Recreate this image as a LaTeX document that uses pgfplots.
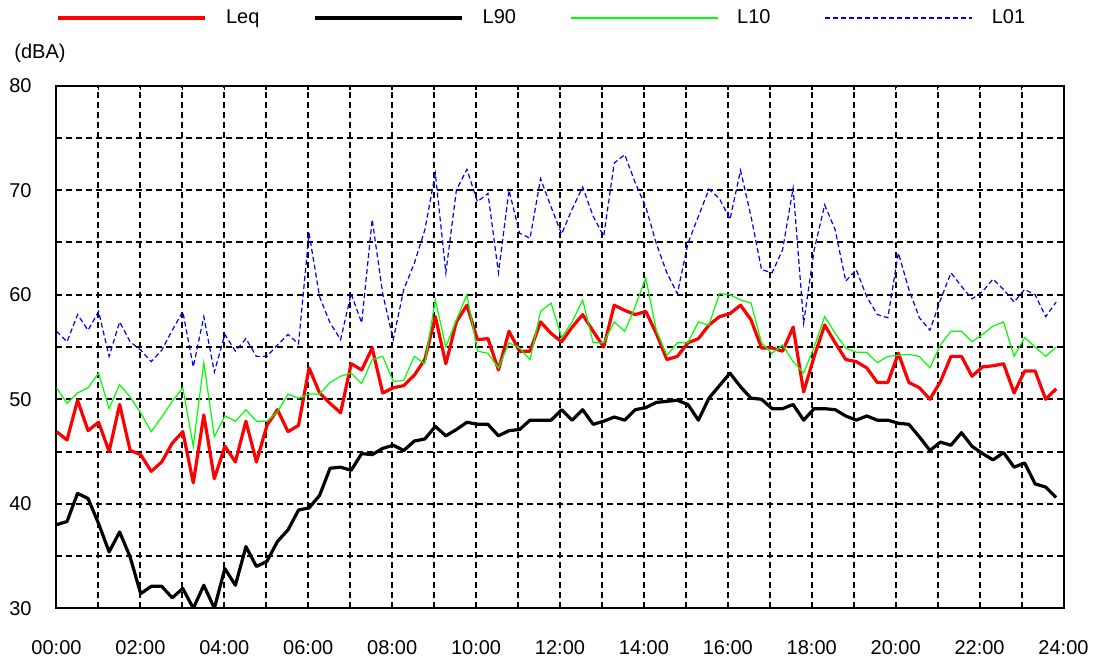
\documentclass[border=0pt]{standalone}
\usepackage{fontspec}
\setmainfont{Liberation Sans}
\usepackage{pgfplots}
\pgfplotsset{compat=1.18}
\usepackage{pgfplotstable}
\pgfplotstableread{
i leq l90 l10 l01
0 46.9 38.0 51.1 56.5
1 46.1 38.3 49.6 55.5
2 49.9 41.0 50.6 58.1
3 47.0 40.5 51.1 56.6
4 47.8 38.1 52.5 58.4
5 45.0 35.4 49.1 54.1
6 49.5 37.3 51.4 57.4
7 45.1 34.9 50.2 55.5
8 44.7 31.4 48.7 54.7
9 43.1 32.1 46.9 53.6
10 44.0 32.1 48.3 54.7
11 45.8 31.0 49.8 56.6
12 46.9 31.9 51.1 58.4
13 42.0 30.0 45.5 53.1
14 48.5 32.2 53.5 57.9
15 42.4 30.0 46.4 52.6
16 45.5 33.8 48.4 56.2
17 44.0 32.2 47.9 54.6
18 47.9 35.9 49.0 55.8
19 44.0 34.0 47.9 54.1
20 47.5 34.5 47.9 54.1
21 49.0 36.4 48.8 55.2
22 46.9 37.5 50.5 56.2
23 47.5 39.4 50.1 55.3
24 53.0 39.6 50.5 65.9
25 50.6 40.8 50.5 59.8
26 49.6 43.4 51.6 57.3
27 48.7 43.5 52.2 55.7
28 53.4 43.2 52.5 60.1
29 52.8 44.8 51.5 57.3
30 54.9 44.7 53.8 67.2
31 50.6 45.3 54.1 60.1
32 51.1 45.6 51.7 55.7
33 51.3 45.1 51.8 60.5
34 52.3 46.0 54.1 63.0
35 53.8 46.2 53.4 66.2
36 57.9 47.4 59.5 71.6
37 53.4 46.5 55.0 62.1
38 57.4 47.1 57.6 70.0
39 59.0 47.8 60.0 72.0
40 55.7 47.6 54.6 68.9
41 55.8 47.6 54.4 69.7
42 52.8 46.5 53.0 62.1
43 56.5 47.0 55.4 70.0
44 54.6 47.1 54.9 65.9
45 54.6 48.0 53.8 65.4
46 57.4 48.0 58.4 71.1
47 56.3 48.0 59.2 68.4
48 55.5 49.0 55.9 65.8
49 56.9 48.0 57.4 68.2
50 58.1 49.0 59.5 70.3
51 56.5 47.6 55.4 67.5
52 55.0 47.9 55.4 65.6
53 59.0 48.3 57.4 72.6
54 58.5 48.0 56.5 73.4
55 58.1 49.0 58.9 70.7
56 58.4 49.2 61.6 68.4
57 56.3 49.7 56.6 64.9
58 53.8 49.8 54.2 62.1
59 54.1 49.9 55.4 60.1
60 55.4 49.5 55.4 64.9
61 55.8 48.0 57.4 67.5
62 57.1 50.1 57.1 70.1
63 57.9 51.3 60.1 69.2
64 58.2 52.5 60.0 67.2
65 59.0 51.2 59.5 71.9
66 57.6 50.1 59.2 67.5
67 54.9 50.0 55.4 62.4
68 54.9 49.1 54.4 62.1
69 54.6 49.1 55.2 64.3
70 56.9 49.5 53.6 70.2
71 50.7 48.0 52.5 57.3
72 54.1 49.1 55.0 64.3
73 57.1 49.1 57.9 68.6
74 55.4 49.0 56.3 66.2
75 53.8 48.4 54.9 61.3
76 53.6 48.0 54.5 62.4
77 53.0 48.4 54.5 59.8
78 51.6 48.0 53.5 58.1
79 51.6 48.0 54.1 57.8
80 54.4 47.7 54.2 64.0
81 51.6 47.6 54.3 60.5
82 51.1 46.4 54.1 57.8
83 50.0 45.1 53.0 56.6
84 51.7 45.9 55.2 59.5
85 54.1 45.6 56.5 62.1
86 54.1 46.8 56.5 60.8
87 52.2 45.5 55.5 59.6
88 53.1 44.8 56.2 60.3
89 53.2 44.2 57.0 61.5
90 53.4 44.9 57.4 60.5
91 50.6 43.5 54.1 59.3
92 52.7 43.9 55.9 60.5
93 52.7 41.9 55.0 60.0
94 50.0 41.6 54.1 57.9
95 51.0 40.6 55.0 59.3
}\data

\begin{document}
\begin{tikzpicture}
\fontsize{10}{12}\selectfont
\path[use as bounding box] (-28.25pt,-26.85pt) rectangle (521.25pt,304.15pt);
\begin{axis}[
  at={(0pt,0pt)}, anchor=south west,
  scale only axis, width=503.5pt, height=261.3pt,
  xmin=0, xmax=24, ymin=30, ymax=80,
  xtick={0,1,...,24},
  xticklabels={00:00,,02:00,,04:00,,06:00,,08:00,,10:00,,12:00,,14:00,,16:00,,18:00,,20:00,,22:00,,24:00},
  ytick={30,35,...,80},
  yticklabels={30,,40,,50,,60,,70,,80},
  grid=major,
  major grid style={black, line width=1pt, dash pattern=on 3pt off 2pt},
  tick align=inside, major tick length=2pt,
  tick style={black, line width=0.8pt},
  axis line style={black, line width=1pt},
  xticklabel style={anchor=center, yshift=-19.85pt},
  yticklabel style={anchor=east, inner sep=0pt, xshift=-12.25pt},
  ylabel={(dBA)},
  every axis y label/.style={at={(axis description cs:0,1)}, anchor=center, xshift=-8.25pt, yshift=16.35pt},
  legend columns=4,
  legend cell align=left,
  legend style={at={(0,1)}, anchor=west, yshift=33.85pt, draw=none, fill=none,
    inner sep=0pt, nodes={inner sep=0pt},
    /tikz/every odd column/.append style={column sep=9.5pt},
    /tikz/every even column/.append style={column sep=27pt}},
  legend image code/.code={\draw[#1] (0pt,0pt) -- (73.5pt,0pt);},
]
\addplot[red, line width=1.6pt, line join=round] table[x expr=\thisrow{i}*0.2508, y=leq] {\data};
\addlegendentry{Leq}
\addplot[black, line width=1.6pt, line join=round] table[x expr=\thisrow{i}*0.2508, y=l90] {\data};
\addlegendentry{L90}
\addplot[green, line width=0.6pt] table[x expr=\thisrow{i}*0.2508, y=l10] {\data};
\addlegendentry{L10}
\addplot[blue, line width=0.6pt, dash pattern=on 2.5pt off 1.5pt] table[x expr=\thisrow{i}*0.2508, y=l01] {\data};
\addlegendentry{L01}
\end{axis}
\end{tikzpicture}
\end{document}
